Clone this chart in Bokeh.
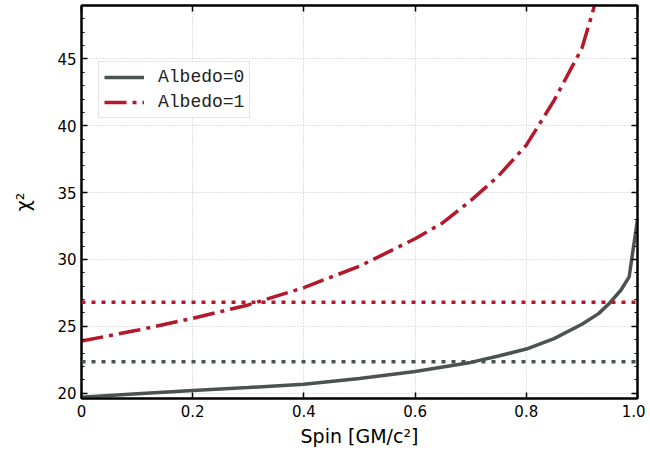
from bokeh.plotting import figure
from bokeh.models import (Range1d, FixedTicker, SingleIntervalTicker, LinearAxis,
                          Span, Legend, LegendItem)
from bokeh.embed import file_html
from bokeh.resources import INLINE

# ---- data ----
spin_a0 = [0.0, 0.1, 0.2, 0.3, 0.4, 0.5, 0.6, 0.7, 0.75, 0.8, 0.85, 0.9, 0.93, 0.95, 0.97, 0.985, 1.0]
chi2_a0 = [19.7, 19.95, 20.2, 20.42, 20.67, 21.1, 21.62, 22.3, 22.78, 23.3, 24.08, 25.15, 25.95, 26.75, 27.7, 28.7, 33.0]

spin_a1 = [0.0, 0.1, 0.2, 0.3, 0.4, 0.5, 0.6, 0.65, 0.7, 0.75, 0.8, 0.85, 0.9, 0.92, 0.94]
chi2_a1 = [23.9, 24.7, 25.6, 26.6, 27.9, 29.5, 31.55, 32.75, 34.4, 36.25, 38.55, 41.9, 45.8, 48.6, 52.0]

ref_a0 = 22.35   # dotted reference level, Albedo=0
ref_a1 = 26.8    # dotted reference level, Albedo=1

x_ticks = [0.0, 0.2, 0.4, 0.6, 0.8, 1.0]
x_tick_labels = {0.0: "0", 0.2: "0.2", 0.4: "0.4", 0.6: "0.6", 0.8: "0.8", 1.0: "1.0"}
y_ticks = [20, 25, 30, 35, 40, 45]
labels = ["Albedo=0", "Albedo=1"]

GREY = "#4b5351"
RED = "#b5172b"

p = figure(frame_width=556, frame_height=393, output_backend="svg", toolbar_location=None,
           x_range=Range1d(0, 1), y_range=Range1d(19.6, 49.0),
           min_border_left=81, min_border_right=8, min_border_top=5, min_border_bottom=45)
p.background_fill_color = "white"
p.border_fill_color = "white"
p.outline_line_color = "black"
p.outline_line_width = 2

# grid
for g in (p.xgrid, p.ygrid):
    g.grid_line_color = "#c4c4c4"
    g.grid_line_width = 1
    g.grid_line_dash = "1 2"
p.xgrid.ticker = FixedTicker(ticks=x_ticks)
p.ygrid.ticker = SingleIntervalTicker(interval=5, num_minor_ticks=5)

# axes
p.xaxis.ticker = FixedTicker(ticks=x_ticks)
p.yaxis.ticker = SingleIntervalTicker(interval=5, num_minor_ticks=5)
p.xaxis.major_label_overrides = x_tick_labels
p.xaxis.axis_label = "Spin [GM/c²]"
p.yaxis.axis_label = "χ²"

def style_axis(ax, minor):
    ax.axis_line_width = 2
    ax.axis_line_color = "black"
    ax.major_tick_in = 6
    ax.major_tick_out = 0
    ax.major_tick_line_width = 1.5
    ax.major_tick_line_color = "black"
    if minor:
        ax.minor_tick_in = 3
        ax.minor_tick_out = 0
        ax.minor_tick_line_width = 1.2
        ax.minor_tick_line_color = "black"
    else:
        ax.minor_tick_line_color = None
    ax.major_label_text_font = "DejaVu Sans"
    ax.major_label_text_font_size = "15px"
    ax.major_label_text_color = "black"
    ax.axis_label_text_font = "DejaVu Sans"
    ax.axis_label_text_font_size = "19px"
    ax.axis_label_text_font_style = "normal"
    ax.axis_label_text_color = "black"

for ax in p.xaxis:
    style_axis(ax, False)
    ax.major_label_standoff = 6
    ax.axis_label_standoff = 5
for ax in p.yaxis:
    style_axis(ax, True)
    ax.major_label_standoff = 5
    ax.axis_label_standoff = 20

top = LinearAxis(ticker=FixedTicker(ticks=x_ticks), major_label_standoff=0,
                 major_label_overrides={t: "" for t in x_ticks})
style_axis(top, False)
right = LinearAxis(ticker=SingleIntervalTicker(interval=5, num_minor_ticks=5), major_label_standoff=0,
                   major_label_overrides={t: "" for t in y_ticks})
style_axis(right, True)
p.add_layout(top, "above")
p.add_layout(right, "right")

# reference levels
p.add_layout(Span(location=ref_a1, dimension="width", line_color=RED, line_width=3.5,
                  line_dash="4 6"))
p.add_layout(Span(location=ref_a0, dimension="width", line_color=GREY, line_width=3.5,
                  line_dash="4 6"))

# curves
r0 = p.line(spin_a0, chi2_a0, line_color=GREY, line_width=3.5)
r1 = p.line(spin_a1, chi2_a1, line_color=RED, line_width=3.5, line_dash="22 6 4 6")

legend = Legend(items=[LegendItem(label=labels[0], renderers=[r0]),
                       LegendItem(label=labels[1], renderers=[r1])],
                location=(17, 280))
legend.label_text_font = "Liberation Mono"
legend.label_text_font_size = "18px"
legend.label_text_color = "#222222"
legend.glyph_width = 40
legend.glyph_height = 20
legend.label_standoff = 14
legend.label_height = 20
legend.spacing = 5
legend.padding = 5
legend.margin = 0
legend.border_line_color = "#cccccc"
legend.border_line_width = 1
legend.background_fill_alpha = 0.85
p.add_layout(legend)

open("out.html", "w").write(file_html(p, INLINE))
